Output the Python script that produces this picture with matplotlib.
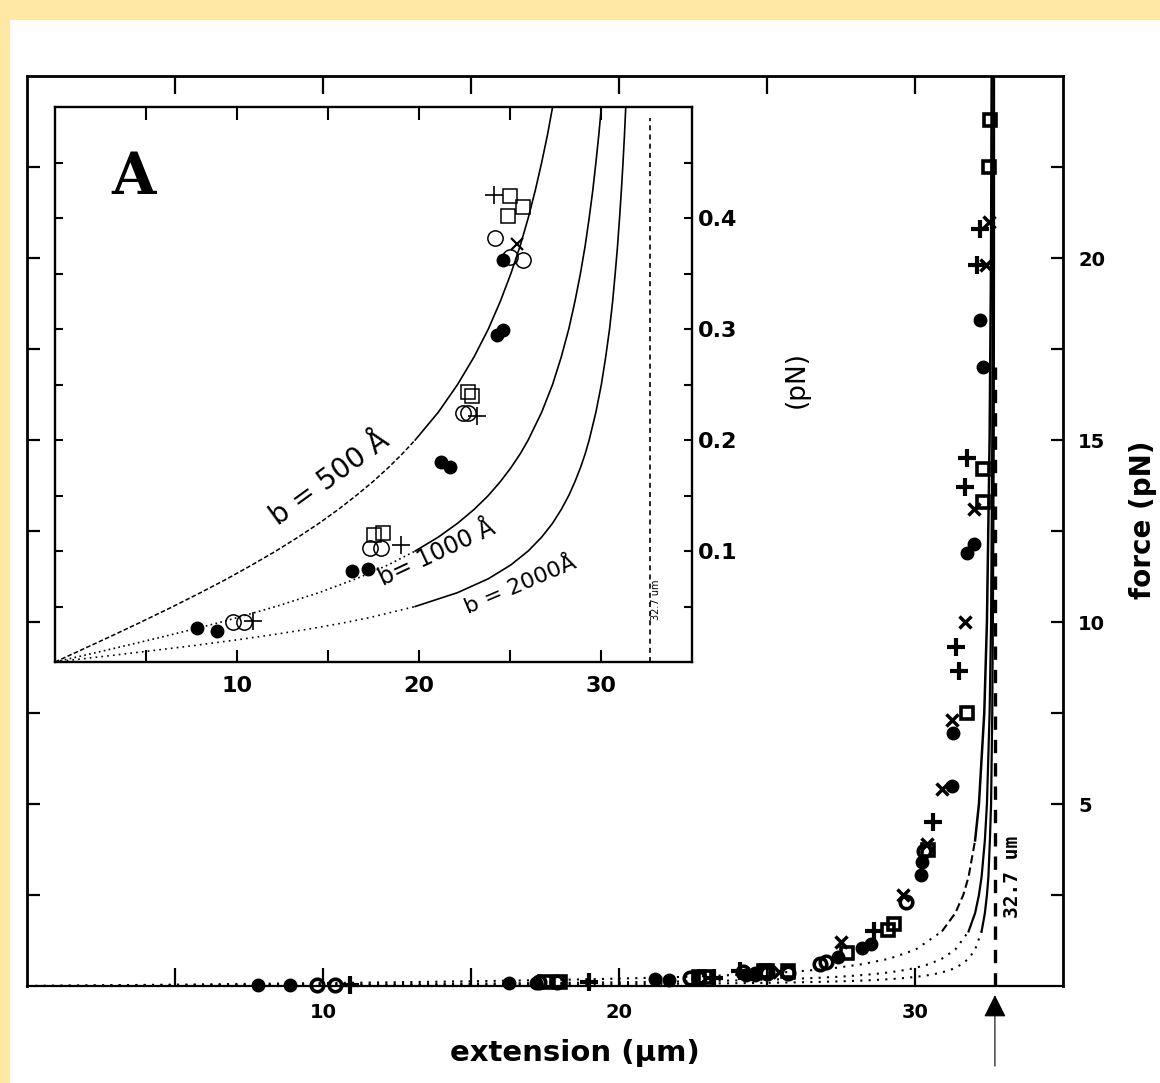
import numpy as np
import matplotlib
matplotlib.use("Agg")
import matplotlib.pyplot as plt
from matplotlib.patches import Rectangle

# ---------------- data ----------------
# model curves: force (pN) and extension (um) for three segment lengths b
force_grid = np.array([0, 0.005, 0.01, 0.015, 0.02, 0.025, 0.03, 0.035, 0.04, 0.05,
                       0.0625, 0.075, 0.0875, 0.1, 0.1125, 0.125, 0.1375, 0.15,
                       0.1625, 0.175, 0.1875, 0.2, 0.225, 0.25, 0.275, 0.3, 0.325,
                       0.35, 0.375, 0.4, 0.425, 0.45, 0.475, 0.5, 0.6, 0.75, 1,
                       1.5, 2, 2.5, 3, 4, 5, 7.5, 10, 15, 20, 25])
ext_b500 = np.array([0, 0.665, 1.33, 1.99, 2.65, 3.31, 3.95, 4.60, 5.23, 6.49,
                     8.00, 9.46, 10.83, 12.14, 13.36, 14.51, 15.57, 16.55,
                     17.47, 18.31, 19.08, 19.79, 21.06, 22.12, 23.03, 23.81, 24.47,
                     25.05, 25.56, 26.00, 26.39, 26.74, 27.06, 27.34, 28.23, 29.13,
                     30.02, 30.91, 31.36, 31.63, 31.81, 32.03, 32.16, 32.34, 32.43,
                     32.52, 32.57, 32.59])
ext_b1000 = np.array([0, 1.33, 2.65, 3.95, 5.23, 6.49, 7.71, 8.89, 10.02, 12.14,
                      14.51, 16.55, 18.31, 19.79, 21.06, 22.12, 23.03, 23.81,
                      24.47, 25.05, 25.56, 26.00, 26.74, 27.34, 27.82, 28.23, 28.57,
                      28.87, 29.13, 29.35, 29.55, 29.72, 29.88, 30.02, 30.47, 30.91,
                      31.36, 31.81, 32.03, 32.16, 32.25, 32.36, 32.43, 32.52, 32.57,
                      32.61, 32.63, 32.65])
ext_b2000 = np.array([0, 2.65, 5.23, 7.71, 10.02, 12.14, 14.05, 15.77, 17.29, 19.79,
                      22.12, 23.81, 25.05, 26.00, 26.74, 27.34, 27.82, 28.23,
                      28.57, 28.87, 29.13, 29.35, 29.72, 30.02, 30.26, 30.47, 30.64,
                      30.78, 30.91, 31.02, 31.12, 31.21, 31.29, 31.36, 31.58, 31.81,
                      32.03, 32.25, 32.36, 32.43, 32.48, 32.53, 32.57, 32.61, 32.63,
                      32.66, 32.67, 32.67])
contour_length = 32.7

# measured points (extension um, force pN)
filled_x = [7.8, 8.9, 16.3, 17.2, 21.2, 21.7, 24.3, 24.6, 24.6,
            27.4, 28.2, 28.5, 30.2, 30.25, 31.25, 31.3, 31.75, 32.0, 32.3, 32.2]
filled_f = [0.031, 0.028, 0.082, 0.084, 0.180, 0.176, 0.295, 0.299, 0.362,
            0.8, 1.05, 1.15, 3.05, 3.4, 5.5, 6.95, 11.9, 12.15, 17.0, 18.3]
open_x = [9.8, 10.4, 17.3, 17.9, 22.4, 22.7, 24.2, 25.0, 25.7,
          26.8, 27.0, 29.7, 30.3]
open_f = [0.036, 0.036, 0.103, 0.103, 0.224, 0.224, 0.382, 0.365, 0.362,
          0.6, 0.65, 2.3, 3.7]
square_x = [17.5, 18.0, 22.7, 22.9, 24.9, 25.0, 25.7,
            27.7, 29.1, 29.3, 30.45, 31.75, 32.3, 32.3, 32.5, 32.55]
square_f = [0.114, 0.116, 0.243, 0.240, 0.402, 0.420, 0.410,
            0.9, 1.55, 1.7, 3.75, 7.5, 13.3, 14.2, 22.5, 23.8]
plus_x = [10.9, 19.0, 23.2, 24.1,
          28.6, 30.6, 31.4, 31.5, 31.7, 31.75, 32.1, 32.2]
plus_f = [0.037, 0.105, 0.222, 0.421,
          1.5, 4.5, 9.3, 8.65, 13.7, 14.5, 19.8, 20.8]
cross_x = [25.4, 27.5, 29.6, 30.4, 30.9, 31.25, 31.7, 32.0, 32.4, 32.5]
cross_f = [0.377, 1.2, 2.5, 3.9, 5.4, 7.3, 10.0, 13.1, 19.8, 21.0]

main_xticks = [10, 20, 30]
main_yticks = [5, 10, 15, 20]
inset_xticks = [10, 20, 30]
inset_yticks = [0.1, 0.2, 0.3, 0.4]
inset_ylabels = ["0.1", "0.2", "0.3", "0.4"]

# ---------------- figure ----------------
W, H = 1160, 1083
fig = plt.figure(figsize=(W / 100, H / 100), dpi=100, facecolor="#FFE8A6")
fig.patches.append(Rectangle((10 / W, 0), 1 - 10 / W, 1 - 20 / H,
                             transform=fig.transFigure, facecolor="white",
                             edgecolor="none", zorder=-10))


def fx(px):
    return px / W


def fy(py):
    return 1 - py / H


def segment(ax, ext, lo, hi, **kw):
    m = (force_grid >= lo) & (force_grid <= hi)
    ax.plot(ext[m], force_grid[m], color="black", **kw)


# ---- main axes ----
ax = fig.add_axes([fx(27), fy(986), 1036 / W, 910 / H])
ax.set_facecolor("none")
ax.set_xlim(0, 35)
ax.set_ylim(0, 25)
for s in ax.spines.values():
    s.set_linewidth(2.0)
ax.spines["bottom"].set_linewidth(1.6)

ax.set_xticks(main_xticks)
ax.set_xticklabels([str(v) for v in main_xticks])
ax.set_xticks([5, 15, 25], minor=True)
ax.set_yticks(main_yticks)
ax.set_yticklabels([str(v) for v in main_yticks])
ax.set_yticks([2.5, 7.5, 12.5, 17.5, 22.5], minor=True)
ax.tick_params(axis="x", which="both", direction="in", top=True, bottom=True,
               length=13, width=1.6, pad=12)
ax.tick_params(axis="y", which="both", direction="in", left=True, right=True,
               labelleft=False, labelright=True, length=9, width=1.6, pad=11)
for lab in ax.get_xticklabels() + ax.get_yticklabels():
    lab.set_fontfamily("DejaVu Sans")
    lab.set_fontweight("bold")
    lab.set_fontsize(14)

# curves in main
for ext in (ext_b500, ext_b1000, ext_b2000):
    segment(ax, ext, 0, 1.5, lw=1.5, linestyle=(0, (1, 3)))
segment(ax, ext_b500, 1.5, 4, lw=1.5, linestyle=(0, (4, 2)))
segment(ax, ext_b500, 4, 25, lw=1.8)
segment(ax, ext_b1000, 1.5, 25, lw=1.6)
segment(ax, ext_b2000, 1.5, 25, lw=1.6)
ax.axvline(contour_length, ymin=0, ymax=0.68, color="black", lw=2.4,
           linestyle=(0, (4, 3)))

# points in main
mk = dict(linestyle="none", color="black", clip_on=False, zorder=5)
ax.plot(filled_x, filled_f, marker="o", ms=9, mfc="black", mec="black", **mk)
ax.plot(open_x, open_f, marker="o", ms=9, mfc="none", mec="black", mew=2.6, **mk)
ax.plot(square_x, square_f, marker="s", ms=9, mfc="none", mec="black", mew=2.6, **mk)
ax.plot(plus_x, plus_f, marker="+", ms=13, mew=3, **mk)
ax.plot(cross_x, cross_f, marker="x", ms=9, mew=2.5, **mk)

ax.annotate("", xy=(contour_length, -0.25), xytext=(contour_length, -2.2),
            xycoords="data", annotation_clip=False,
            arrowprops=dict(arrowstyle="-|>,head_length=1.4,head_width=0.7",
                            lw=0.8, color="black", shrinkA=0, shrinkB=0))

fig.text(fx(575), fy(1053), "extension (µm)", ha="center", va="center",
         fontsize=21, fontweight="bold", family="DejaVu Sans")
fig.text(fx(1143), fy(520), "force (pN)", ha="center", va="center",
         rotation=90, fontsize=20, fontweight="bold", family="DejaVu Sans")
fig.text(fx(1012), fy(877), "32.7 um", ha="center", va="center", rotation=90,
         fontsize=14, fontweight="bold", family="DejaVu Sans Mono")

# ---- inset ----
ins = fig.add_axes([fx(55), fy(662), 637 / W, 555 / H])
ins.set_facecolor("white")
ins.set_xlim(0, 35)
ins.set_ylim(0, 0.5)
for s in ins.spines.values():
    s.set_linewidth(1.7)
ins.set_xticks(inset_xticks)
ins.set_xticklabels([str(v) for v in inset_xticks])
ins.set_xticks([5, 15, 25], minor=True)
ins.set_yticks(inset_yticks)
ins.set_yticklabels(inset_ylabels)
ins.set_yticks([0.05, 0.15, 0.25, 0.35, 0.45], minor=True)
ins.tick_params(axis="x", which="both", direction="in", top=True, bottom=True,
                length=9, width=1.5, pad=10)
ins.tick_params(axis="y", which="both", direction="in", left=True, right=True,
                labelleft=False, labelright=True, length=6, width=1.5, pad=4)
for lab in ins.get_xticklabels() + ins.get_yticklabels():
    lab.set_fontfamily("DejaVu Sans")
    lab.set_fontweight("bold")
    lab.set_fontsize(16)

segment(ins, ext_b500, 0, 0.2, lw=1.1, linestyle=(0, (3, 1.5)))
segment(ins, ext_b500, 0.2, 25, lw=1.2)
segment(ins, ext_b1000, 0, 0.1, lw=1.2, linestyle=(0, (1, 2)))
segment(ins, ext_b1000, 0.1, 25, lw=1.2)
segment(ins, ext_b2000, 0, 0.05, lw=1.2, linestyle=(0, (1, 2.5)))
segment(ins, ext_b2000, 0.05, 25, lw=1.2)
ins.axvline(contour_length, ymin=0, ymax=0.98, color="black", lw=1.2,
            linestyle=(0, (3, 2.5)))

mi = dict(linestyle="none", color="black", zorder=5)
ins.plot(filled_x, filled_f, marker="o", ms=9, mfc="black", mec="black", **mi)
ins.plot(open_x, open_f, marker="o", ms=11, mfc="none", mec="black", mew=1.1, **mi)
ins.plot(square_x, square_f, marker="s", ms=10, mfc="none", mec="black", mew=1.1, **mi)
ins.plot(plus_x, plus_f, marker="+", ms=13, mew=1.2, **mi)
ins.plot(cross_x, cross_f, marker="x", ms=9, mew=1.6, **mi)

fig.text(fx(134), fy(178), "A", ha="center", va="center", fontsize=41,
         fontweight="bold", family="DejaVu Serif")
fig.text(fx(330), fy(478), "b = 500 Å", ha="center", va="center", rotation=36,
         fontsize=20, family="DejaVu Sans")
fig.text(fx(437), fy(553), "b= 1000 Å", ha="center", va="center", rotation=25,
         fontsize=17, family="DejaVu Sans")
fig.text(fx(520), fy(585), "b = 2000Å", ha="center", va="center", rotation=23,
         fontsize=16, family="DejaVu Sans")
fig.text(fx(656), fy(600), "32.7 um", ha="center", va="center", rotation=90,
         fontsize=7, family="DejaVu Sans")
fig.text(fx(797), fy(380), "(pN)", ha="center", va="center", rotation=90,
         fontsize=19, family="DejaVu Sans")

fig.savefig("out.png", dpi=100, facecolor=fig.get_facecolor())
